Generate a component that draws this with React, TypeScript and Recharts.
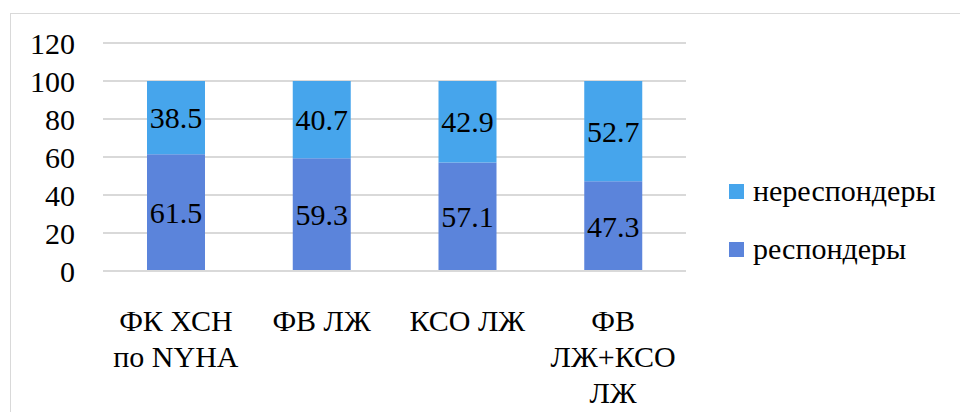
import { Bar, BarChart, CartesianGrid, LabelList, XAxis, YAxis } from "recharts";

const categories = ["ФК ХСН|по NYHA", "ФВ ЛЖ", "КСО ЛЖ", "ФВ|ЛЖ+КСО|ЛЖ"];
const responders = [61.5, 59.3, 57.1, 47.3];
const nonResponders = [38.5, 40.7, 42.9, 52.7];
const yTicks = [0, 20, 40, 60, 80, 100, 120];

const seriesNames = { resp: "респондеры", nonResp: "нереспондеры" };

const data = categories.map((name, i) => ({
  name,
  resp: responders[i],
  nonResp: nonResponders[i],
}));

const FONT = "Liberation Serif, Tinos, Times New Roman, DejaVu Serif, serif";

const CategoryTick = (props: any) => {
  const { x, y, payload } = props;
  const lines = String(payload.value).split("|");
  return (
    <text
      x={x}
      y={y}
      textAnchor="middle"
      fontFamily={FONT}
      fontSize={30}
      fill="#000"
    >
      {lines.map((line, i) => (
        <tspan key={i} x={x} dy={i === 0 ? 52 : 36}>
          {line}
        </tspan>
      ))}
    </text>
  );
};

const legendItems = [
  { label: seriesNames.nonResp, color: "#46a5ec", top: 183 },
  { label: seriesNames.resp, color: "#5b84db", top: 241 },
];

export default function App() {
  return (
    <div
      style={{
        position: "absolute",
        left: 0,
        top: 0,
        width: 960,
        height: 412,
        overflow: "hidden",
        background: "#fff",
      }}
    >
      <div
        style={{
          position: "absolute",
          left: 10,
          top: 13,
          width: 980,
          height: 440,
          border: "1.5px solid #d9d9d9",
        }}
      />
      <div style={{ position: "absolute", left: 0, top: 0 }}>
        <BarChart
          width={960}
          height={412}
          data={data}
          margin={{ top: 43, right: 274, bottom: 0, left: 0 }}
        >
          <CartesianGrid vertical={false} stroke="#d9d9d9" strokeWidth={2} />
          <XAxis
            dataKey="name"
            tick={<CategoryTick />}
            tickLine={false}
            axisLine={{ stroke: "#d9d9d9", strokeWidth: 2 }}
            interval={0}
            height={141}
          />
          <YAxis
            domain={[0, 120]}
            ticks={yTicks}
            interval={0}
            width={103}
            tickSize={0}
            tickMargin={28}
            axisLine={false}
            tickLine={false}
            tick={{ fontFamily: FONT, fontSize: 30, fill: "#000" }}
          />
          <Bar
            dataKey="resp"
            name={seriesNames.resp}
            stackId="a"
            fill="#5b84db"
            barSize={58}
            isAnimationActive={false}
          >
            <LabelList
              dataKey="resp"
              position="center"
              fill="#000"
              fontFamily={FONT}
              fontSize={30}
            />
          </Bar>
          <Bar
            dataKey="nonResp"
            name={seriesNames.nonResp}
            stackId="a"
            fill="#46a5ec"
            barSize={58}
            isAnimationActive={false}
          >
            <LabelList
              dataKey="nonResp"
              position="center"
              fill="#000"
              fontFamily={FONT}
              fontSize={30}
            />
          </Bar>
        </BarChart>
      </div>
      {legendItems.map((item) => (
        <div
          key={item.label}
          style={{
            position: "absolute",
            left: 729,
            top: item.top - 9,
            display: "flex",
            alignItems: "center",
            fontFamily: FONT,
            fontSize: 30,
            lineHeight: "34px",
            color: "#000",
          }}
        >
          <span
            style={{
              display: "inline-block",
              width: 15,
              height: 15,
              background: item.color,
              marginRight: 9,
            }}
          />
          {item.label}
        </div>
      ))}
    </div>
  );
}
